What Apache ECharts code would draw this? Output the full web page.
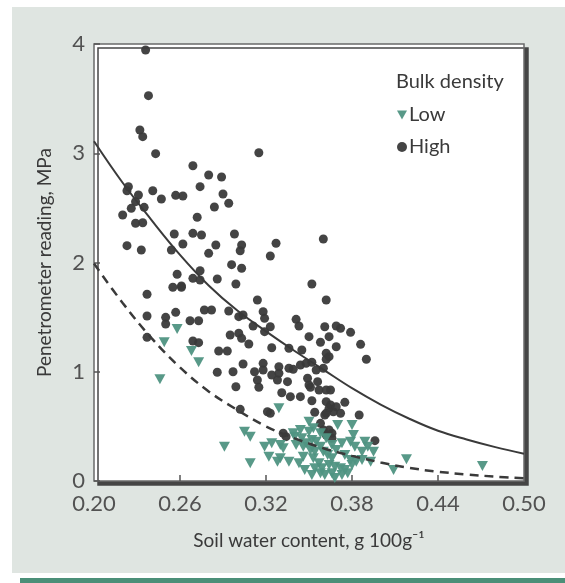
<!DOCTYPE html>
<html>
<head>
<meta charset="utf-8">
<script src="https://cdn.jsdelivr.net/npm/echarts@6/dist/echarts.min.js"></script>
<style>
  html, body { margin: 0; padding: 0; background: #ffffff; }
  #chart { width: 565px; height: 583px; }
</style>
</head>
<body>
<div id="chart"></div>
<script>
// Penetrometer reading vs soil water content, two bulk density classes

const xTickLabels = [0.2, 0.26, 0.32, 0.38, 0.44, 0.5];
const xTickMarks = [0.26, 0.32, 0.38, 0.44];

// high bulk density (dark dots), [water content, MPa]
const highPoints = [
  [0.236, 3.945], [0.238, 3.527], [0.232, 3.213], [0.234, 3.152], [0.243, 2.996], [0.269, 2.886],
  [0.280, 2.801], [0.224, 2.694], [0.223, 2.657], [0.231, 2.618], [0.241, 2.657], [0.247, 2.581],
  [0.257, 2.615], [0.262, 2.609], [0.274, 2.694], [0.229, 2.557], [0.226, 2.496], [0.235, 2.505],
  [0.220, 2.435], [0.229, 2.359], [0.234, 2.364], [0.272, 2.414], [0.256, 2.261], [0.269, 2.267],
  [0.275, 2.252], [0.262, 2.169], [0.223, 2.154], [0.233, 2.114], [0.254, 2.114], [0.280, 2.084],
  [0.289, 2.783], [0.290, 2.627], [0.294, 2.542], [0.284, 2.508], [0.315, 3.005], [0.298, 2.261],
  [0.285, 2.160], [0.303, 2.160], [0.302, 2.108], [0.327, 2.176], [0.360, 2.215], [0.323, 2.059],
  [0.296, 1.980], [0.303, 1.947], [0.274, 1.925], [0.269, 1.855], [0.274, 1.840], [0.261, 1.785],
  [0.286, 1.849], [0.299, 1.803], [0.352, 1.803], [0.314, 1.657], [0.362, 1.657], [0.277, 1.565],
  [0.282, 1.565], [0.294, 1.556], [0.301, 1.504], [0.304, 1.519], [0.318, 1.550], [0.319, 1.489],
  [0.267, 1.467], [0.273, 1.467], [0.311, 1.419], [0.323, 1.412], [0.341, 1.480], [0.343, 1.419],
  [0.361, 1.412], [0.369, 1.419], [0.372, 1.398], [0.379, 1.361], [0.295, 1.336], [0.301, 1.352],
  [0.303, 1.306], [0.308, 1.254], [0.269, 1.281], [0.273, 1.266], [0.350, 1.321], [0.364, 1.321],
  [0.358, 1.270], [0.336, 1.215], [0.369, 1.229], [0.386, 1.251], [0.287, 1.190], [0.293, 1.190],
  [0.324, 1.220], [0.345, 1.199], [0.362, 1.169], [0.364, 1.138], [0.362, 1.114], [0.390, 1.114],
  [0.304, 1.071], [0.318, 1.077], [0.318, 1.016], [0.329, 1.046], [0.329, 0.986], [0.336, 1.032],
  [0.339, 1.022], [0.344, 1.062], [0.348, 1.077], [0.352, 1.087], [0.355, 1.016], [0.360, 1.032],
  [0.286, 0.995], [0.297, 1.000], [0.312, 1.000], [0.314, 0.924], [0.315, 0.858], [0.328, 0.924],
  [0.335, 0.909], [0.349, 0.940], [0.350, 0.879], [0.356, 0.909], [0.357, 0.833], [0.362, 0.833],
  [0.365, 0.833], [0.299, 0.863], [0.331, 0.808], [0.337, 0.772], [0.344, 0.772], [0.352, 0.735],
  [0.362, 0.726], [0.365, 0.696], [0.364, 0.665], [0.367, 0.634], [0.362, 0.620], [0.375, 0.720],
  [0.354, 0.629], [0.372, 0.620], [0.385, 0.604], [0.302, 0.656], [0.321, 0.634], [0.323, 0.620],
  [0.360, 0.467], [0.362, 0.421], [0.358, 0.528], [0.332, 0.437], [0.334, 0.406], [0.396, 0.369],
  [0.366, 0.437], [0.237, 1.709], [0.237, 1.510], [0.237, 1.315], [0.250, 1.498], [0.250, 1.437],
  [0.257, 1.544], [0.258, 1.892], [0.255, 1.773], [0.261, 1.773], [0.324, 0.970], [0.319, 1.367],
  [0.351, 0.858], [0.369, 0.680], [0.361, 0.604], [0.364, 0.467], [0.366, 0.391]
];

// low bulk density (green triangles)
const lowPoints = [
  [0.258, 1.391], [0.249, 1.270], [0.268, 1.190], [0.273, 1.087], [0.246, 0.931], [0.329, 0.665],
  [0.305, 0.451], [0.309, 0.406], [0.291, 0.314], [0.309, 0.162], [0.350, 0.543], [0.370, 0.513],
  [0.380, 0.513], [0.344, 0.467], [0.350, 0.451], [0.353, 0.482], [0.324, 0.345], [0.330, 0.330],
  [0.332, 0.299], [0.340, 0.406], [0.345, 0.391], [0.341, 0.330], [0.346, 0.314], [0.348, 0.345],
  [0.352, 0.375], [0.355, 0.360], [0.358, 0.314], [0.360, 0.268], [0.354, 0.268], [0.362, 0.391],
  [0.366, 0.330], [0.369, 0.284], [0.373, 0.345], [0.379, 0.360], [0.382, 0.314], [0.389, 0.360],
  [0.391, 0.314], [0.395, 0.268], [0.387, 0.268], [0.330, 0.208], [0.336, 0.177], [0.346, 0.222],
  [0.343, 0.162], [0.353, 0.208], [0.357, 0.162], [0.359, 0.116], [0.354, 0.116], [0.366, 0.208],
  [0.364, 0.146], [0.368, 0.131], [0.366, 0.070], [0.372, 0.116], [0.375, 0.101], [0.380, 0.146],
  [0.379, 0.192], [0.383, 0.177], [0.387, 0.192], [0.361, 0.055], [0.368, 0.027], [0.373, 0.055],
  [0.377, 0.070], [0.409, 0.101], [0.418, 0.199], [0.471, 0.137], [0.319, 0.314], [0.339, 0.437],
  [0.358, 0.437], [0.381, 0.421], [0.322, 0.222], [0.328, 0.177], [0.393, 0.177], [0.358, 0.070],
  [0.351, 0.284], [0.363, 0.238], [0.375, 0.238], [0.347, 0.101], [0.352, 0.055]
];

// fitted curves
const curveX = [0.20, 0.22, 0.24, 0.26, 0.28, 0.30, 0.32, 0.34, 0.36, 0.38, 0.40, 0.42, 0.44, 0.46, 0.48, 0.50];
const highFit = [3.11, 2.73, 2.39, 2.07, 1.79, 1.56, 1.37, 1.19, 1.02, 0.85, 0.70, 0.57, 0.46, 0.38, 0.31, 0.25];
const lowFit = [1.99, 1.63, 1.31, 1.04, 0.82, 0.65, 0.50, 0.39, 0.30, 0.23, 0.17, 0.12, 0.085, 0.06, 0.04, 0.025];

const FONT = "Lato";
const INK = "#3a3a3a";
const GREEN = "#4f9482";

const chart = echarts.init(document.getElementById("chart"), null, { renderer: "canvas" });

chart.setOption({
  animation: false,
  backgroundColor: "#ffffff",
  graphic: [
    { type: "rect", z: -10, shape: { x: 12, y: 7, width: 553, height: 566 }, style: { fill: "#dfe5e1" } },
    { type: "rect", z: -10, shape: { x: 20, y: 578, width: 545, height: 5 }, style: { fill: "#4b8f78" } }
  ],
  title: {
    text: "Bulk density",
    left: 391,
    top: 67,
    textStyle: { fontFamily: FONT, fontSize: 20, fontWeight: "normal", color: INK }
  },
  legend: {
    orient: "vertical",
    left: 392,
    top: 100,
    itemGap: 12,
    itemWidth: 10,
    itemHeight: 10,
    textStyle: { fontFamily: FONT, fontSize: 20, color: INK, padding: [0, 0, 0, -3] },
    data: [
      { name: "Low", icon: "path://M0,0L10,0L5,9Z" },
      { name: "High", icon: "circle" }
    ]
  },
  grid: {
    left: 94,
    right: 41,
    top: 44,
    bottom: 102,
    show: true,
    backgroundColor: "#ffffff",
    borderColor: "#6a6a6a",
    borderWidth: 1.5,
    shadowColor: "#454545",
    shadowBlur: 0,
    shadowOffsetX: 4,
    shadowOffsetY: 4
  },
  xAxis: {
    type: "value",
    min: 0.2,
    max: 0.5,
    name: "Soil water content, g 100g\u207B\u00B9",
    nameLocation: "middle",
    nameGap: 50,
    nameTextStyle: { fontFamily: FONT, fontSize: 19, color: INK },
    axisLine: { show: false },
    splitLine: { show: false },
    axisTick: {
      show: true,
      inside: true,
      length: 6,
      customValues: xTickMarks,
      lineStyle: { color: "#555", width: 1.5 }
    },
    axisLabel: {
      customValues: xTickLabels,
      margin: 12,
      fontFamily: FONT,
      fontSize: 22,
      color: "#525252",
      formatter: (v) => v.toFixed(2)
    }
  },
  yAxis: {
    type: "value",
    min: 0,
    max: 4,
    interval: 1,
    name: "Penetrometer reading, MPa",
    nameLocation: "middle",
    nameGap: 40,
    nameTextStyle: { fontFamily: FONT, fontSize: 19, color: INK },
    axisLine: { show: false },
    splitLine: { show: false },
    axisTick: { show: true, inside: true, length: 6, lineStyle: { color: "#555", width: 1.5 } },
    axisLabel: { margin: 9, fontFamily: FONT, fontSize: 22, color: "#525252" }
  },
  series: [
    {
      name: "High",
      type: "scatter",
      symbol: "circle",
      symbolSize: 9,
      itemStyle: { color: INK, opacity: 0.95 },
      data: highPoints
    },
    {
      name: "Low",
      type: "scatter",
      symbol: "triangle",
      symbolRotate: 180,
      symbolSize: [11, 10],
      itemStyle: { color: GREEN, opacity: 0.95 },
      data: lowPoints
    },
    {
      name: "highFit",
      type: "line",
      smooth: 0.4,
      symbol: "none",
      lineStyle: { color: INK, width: 2 },
      data: curveX.map((x, i) => [x, highFit[i]])
    },
    {
      name: "lowFit",
      type: "line",
      smooth: 0.4,
      symbol: "none",
      lineStyle: { color: INK, width: 2.5, type: [9, 6] },
      data: curveX.map((x, i) => [x, lowFit[i]])
    }
  ]
});
</script>
</body>
</html>
